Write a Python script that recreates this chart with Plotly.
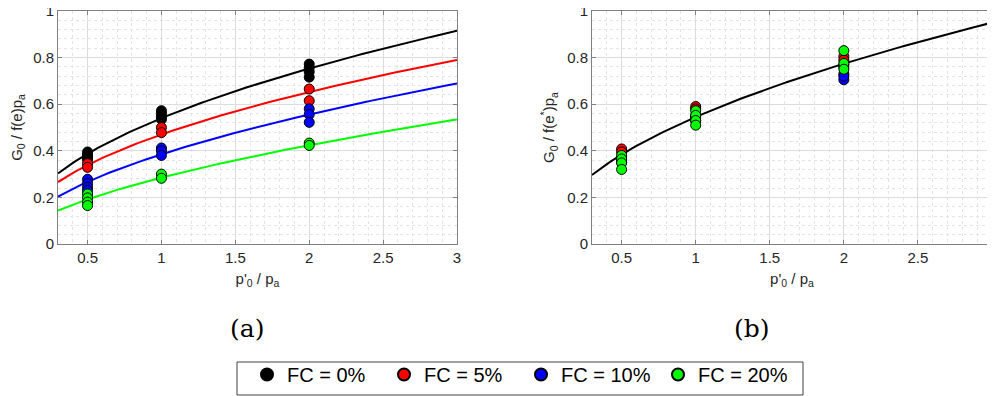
import plotly.graph_objects as go

# ---------------- data ----------------
series_names = ["FC = 0%", "FC = 5%", "FC = 10%", "FC = 20%"]
series_colors = ["#000000", "#ff0000", "#0000ff", "#00ff00"]

# panel (a): measured points  (x = p'0/pa, y = G0/f(e)pa)
a_x = [
    [0.5, 0.5, 0.5, 0.5, 0.5, 1, 1, 1, 1, 2, 2, 2, 2],
    [0.5, 0.5, 1, 1, 2, 2],
    [0.5, 0.5, 0.5, 0.5, 1, 1, 1, 2, 2, 2],
    [0.5, 0.5, 0.5, 0.5, 1, 1, 2, 2],
]
a_y = [
    [0.395, 0.385, 0.378, 0.370, 0.362, 0.572, 0.560, 0.546, 0.535, 0.772, 0.757, 0.739, 0.716],
    [0.345, 0.329, 0.500, 0.478, 0.665, 0.615],
    [0.278, 0.260, 0.243, 0.230, 0.412, 0.400, 0.380, 0.580, 0.556, 0.522],
    [0.215, 0.198, 0.180, 0.165, 0.300, 0.282, 0.433, 0.423],
]
# panel (a): fitted power-law curves  y = A * x^n
a_fit_A = [0.540, 0.470, 0.385, 0.285]
a_fit_n = [0.48, 0.473, 0.53, 0.573]

# panel (b): normalised points (x = p'0/pa, y = G0/f(e*)pa)
b_x = [
    [0.5, 0.5, 1, 1, 2, 2],
    [0.5, 0.5, 1, 1, 2, 2, 2],
    [0.5, 1, 2, 2],
    [0.5, 0.5, 0.5, 0.5, 1, 1, 1, 1, 2, 2, 2],
]
b_y = [
    [0.37, 0.35, 0.55, 0.53, 0.77, 0.76],
    [0.408, 0.395, 0.590, 0.580, 0.805, 0.790, 0.730],
    [0.36, 0.54, 0.705, 0.720],
    [0.380, 0.365, 0.348, 0.320, 0.572, 0.552, 0.530, 0.510, 0.830, 0.775, 0.750],
]
b_fit_A = 0.545
b_fit_n = 0.506

x_ticks = [0.5, 1, 1.5, 2, 2.5, 3]
x_tick_text = ["0.5", "1", "1.5", "2", "2.5", "3"]
y_ticks = [0, 0.2, 0.4, 0.6, 0.8, 1]
y_tick_text = ["0", "0.2", "0.4", "0.6", "0.8", "1"]

# ---------------- figure ----------------
W, H = 995, 396
OFF = 8  # page body margin offset
def px_x(p): return (p - OFF) / W
def px_y(p): return 1 - (p - OFF) / H

SANS = "Liberation Sans, Arial, sans-serif"
fig = go.Figure()

curve_x = [0.3 + i * 0.027 for i in range(101)]

# panel (a) curves
for A, n, c in zip(a_fit_A, a_fit_n, series_colors):
    fig.add_trace(go.Scatter(x=curve_x, y=[A * v ** n for v in curve_x], mode="lines",
                             line=dict(color=c, width=2), showlegend=False,
                             xaxis="x", yaxis="y", hoverinfo="skip"))
# panel (a) points
for xs, ys, c, name in zip(a_x, a_y, series_colors, series_names):
    fig.add_trace(go.Scatter(x=xs, y=ys, mode="markers", name=name,
                             marker=dict(color=c, size=10, line=dict(color="black", width=1)),
                             showlegend=False, xaxis="x", yaxis="y"))

# panel (b) curve
fig.add_trace(go.Scatter(x=curve_x, y=[b_fit_A * v ** b_fit_n for v in curve_x], mode="lines",
                         line=dict(color="black", width=2), showlegend=False,
                         xaxis="x2", yaxis="y2", hoverinfo="skip"))
for xs, ys, c, name in zip(b_x, b_y, series_colors, series_names):
    fig.add_trace(go.Scatter(x=xs, y=ys, mode="markers", name=name,
                             marker=dict(color=c, size=10, line=dict(color="black", width=1)),
                             showlegend=True, xaxis="x2", yaxis="y2"))

axis_common = dict(
    showline=True, linecolor="#808080", linewidth=1, mirror="ticks",
    ticks="inside", ticklen=4, tickcolor="#808080",
    showgrid=True, gridcolor="#dcdcdc", gridwidth=1,
    zeroline=False, ticklabeloverflow="allow", automargin=False,
    tickfont=dict(family=SANS, size=15, color="#262626"),
)

xa = dict(axis_common, range=[0.3, 3], tickvals=x_ticks, ticktext=x_tick_text,
          minor=dict(dtick=0.1, tick0=0, showgrid=True, gridcolor="#e4e4e4", griddash="dot", ticks=""),
          title=dict(text="p'<sub>0</sub> / p<sub>a</sub>", standoff=8,
                     font=dict(family=SANS, size=15, color="#262626")))
ya_common = dict(axis_common, range=[0, 1], tickvals=y_ticks, ticktext=y_tick_text,
                 minor=dict(dtick=0.04, tick0=0, showgrid=True, gridcolor="#e4e4e4", griddash="dot", ticks=""))

fig.update_layout(
    width=W, height=H,
    margin=dict(l=0, r=0, t=0, b=0, autoexpand=False),
    paper_bgcolor="white", plot_bgcolor="white",
    xaxis=dict(xa, domain=[px_x(58), px_x(457)], anchor="y"),
    yaxis=dict(ya_common, domain=[px_y(244), px_y(11)], anchor="x",
               title=dict(text="G<sub>0</sub> / f(e)p<sub>a</sub>", standoff=8,
                          font=dict(family=SANS, size=15, color="#262626"))),
    xaxis2=dict(xa, domain=[px_x(592), px_x(992)], anchor="y2"),
    yaxis2=dict(ya_common, domain=[px_y(244), px_y(11)], anchor="x2",
                title=dict(text="G<sub>0</sub> / f(e<sup>*</sup>)p<sub>a</sub>", standoff=8,
                           font=dict(family=SANS, size=15, color="#262626"))),
    legend=dict(orientation="h", x=px_x(247), xanchor="left", y=px_y(394), yanchor="bottom",
                borderwidth=0, bgcolor="rgba(0,0,0,0)",
                font=dict(family=SANS, size=20, color="black"),
                itemsizing="constant", itemwidth=30, tracegroupgap=0,
                entrywidth=92, entrywidthmode="pixels"),
    showlegend=True,
    shapes=[
        dict(type="rect", xref="paper", yref="paper",
             x0=px_x(237), x1=px_x(803), y0=px_y(395), y1=px_y(362),
             line=dict(color="#404040", width=1), fillcolor="white", layer="below"),
    ],
    annotations=[
        dict(text="(a)", x=px_x(247), y=px_y(328), xref="paper", yref="paper",
             xanchor="center", yanchor="middle",
             showarrow=False, font=dict(family="DejaVu Serif, Liberation Serif, serif", size=25, color="black")),
        dict(text="(b)", x=px_x(752), y=px_y(328), xref="paper", yref="paper",
             xanchor="center", yanchor="middle",
             showarrow=False, font=dict(family="DejaVu Serif, Liberation Serif, serif", size=25, color="black")),
    ],
)

fig.write_html("out.html")
